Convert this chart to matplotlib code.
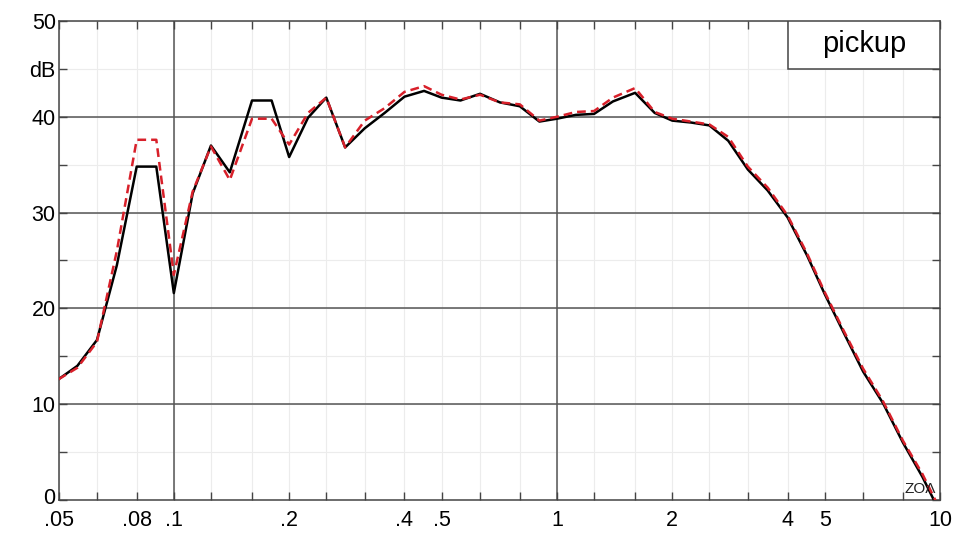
import numpy as np
import matplotlib
matplotlib.use("Agg")
import matplotlib.pyplot as plt
import matplotlib.transforms as mtrans
from matplotlib.patches import Rectangle

plt.rcParams["font.family"] = ["Liberation Sans", "DejaVu Sans"]

# ============== Données (1/6 octave) ===================
freq = [0.05, 0.056, 0.063, 0.071, 0.08, 0.09, 0.1, 0.112, 0.125, 0.14,
        0.16, 0.18, 0.2, 0.224, 0.25, 0.28, 0.315, 0.355, 0.4, 0.45,
        0.5, 0.56, 0.63, 0.71, 0.8, 0.9, 1.0, 1.12, 1.25, 1.4,
        1.6, 1.8, 2.0, 2.24, 2.5, 2.8, 3.15, 3.55, 4.0, 4.5,
        5.0, 5.6, 6.3, 7.1, 8.0, 9.0, 10.0]
black_db = [12.6, 14.0, 16.7, 24.5, 34.8, 34.8, 21.6, 32.0, 37.0, 34.2,
            41.7, 41.7, 35.8, 39.9, 42.0, 36.8, 38.8, 40.4, 42.1, 42.7,
            42.0, 41.7, 42.4, 41.5, 41.1, 39.5, 39.8, 40.2, 40.3, 41.6,
            42.5, 40.4, 39.6, 39.4, 39.1, 37.5, 34.5, 32.3, 29.5, 25.5,
            21.5, 17.5, 13.4, 10.1, 6.0, 2.4, -1.3]
red_db = [12.6, 13.8, 16.5, 26.0, 37.6, 37.6, 23.5, 32.2, 36.9, 33.4,
          39.8, 39.8, 37.1, 40.4, 42.0, 36.8, 39.6, 40.9, 42.6, 43.2,
          42.3, 41.8, 42.3, 41.5, 41.3, 39.6, 40.0, 40.5, 40.6, 42.0,
          43.0, 40.5, 39.8, 39.5, 39.2, 37.9, 34.8, 32.6, 29.7, 25.7,
          21.7, 17.7, 13.7, 10.3, 6.2, 2.7, -1.0]

# graduations 1/3 octave + étiquettes
third_oct = [0.05, 0.063, 0.08, 0.1, 0.125, 0.16, 0.2, 0.25, 0.315, 0.4,
             0.5, 0.63, 0.8, 1.0, 1.25, 1.6, 2.0, 2.5, 3.15, 4.0,
             5.0, 6.3, 8.0, 10.0]
x_labels = {0.05: ".05", 0.08: ".08", 0.1: ".1", 0.2: ".2", 0.4: ".4",
            0.5: ".5", 1.0: "1", 2.0: "2", 4.0: "4", 5.0: "5", 10.0: "10"}
y_ticks = [0, 5, 10, 15, 20, 25, 30, 35, 40, 45, 50]
y_labels = {0: "0", 10: "10", 20: "20", 30: "30", 40: "40", 45: "dB", 50: "50"}

# ============== Figure ===================
fig = plt.figure(figsize=(9.8, 5.34), dpi=100)
ax = fig.add_axes([0.0597, 0.0637, 0.8995, 0.897])
ax.set_xscale("log")
ax.set_xlim(0.05, 10)
ax.set_ylim(0, 50)

# grille claire
for f in third_oct:
    ax.axvline(f, color="#ececec", lw=0.8, zorder=0)
for y in y_ticks:
    ax.axhline(y, color="#ececec", lw=0.8, zorder=0)
# grille foncée
for f in [0.1, 1.0]:
    ax.axvline(f, color="#555555", lw=1.1, zorder=1)
for y in [10, 20, 30, 40]:
    ax.axhline(y, color="#555555", lw=1.1, zorder=1)

ax.plot(freq, black_db, color="black", lw=1.8, zorder=3, clip_on=True)
ax.plot(freq, red_db, color="#d8202a", lw=1.8, ls=(0, (3.5, 2)), zorder=4, clip_on=True)

ax.xaxis.set_minor_locator(matplotlib.ticker.NullLocator())
ax.set_xticks(third_oct)
ax.set_xticklabels([x_labels.get(f, "") for f in third_oct])
ax.set_yticks(y_ticks)
ax.set_yticklabels([y_labels.get(y, "") for y in y_ticks])
ax.tick_params(axis="both", direction="in", length=6, width=1, color="#444444",
               labelsize=15.5, top=True, right=True)
ax.tick_params(axis="x", pad=7)
ax.tick_params(axis="y", pad=2)
for s in ax.spines.values():
    s.set_color("#444444")
    s.set_linewidth(1.1)

# "0" un peu remonté pour ne pas toucher ".05"
lbl0 = ax.get_yticklabels()[0]
lbl0.set_transform(lbl0.get_transform() + mtrans.ScaledTranslation(0, 3 / 72, fig.dpi_scale_trans))

# boite "pickup"
ax.add_patch(Rectangle((0.827, 0.8998), 0.173, 0.1002, transform=ax.transAxes,
                       facecolor="white", edgecolor="#444444", lw=1.1, zorder=5))
ax.text(0.9135, 0.952, "pickup", transform=ax.transAxes, ha="center", va="center",
        fontsize=21, zorder=6)

ax.text(0.995, 0.008, "ZOΛ", transform=ax.transAxes, ha="right", va="bottom",
        fontsize=11, color="#222222", zorder=6)

fig.savefig("out.png", dpi=100)
